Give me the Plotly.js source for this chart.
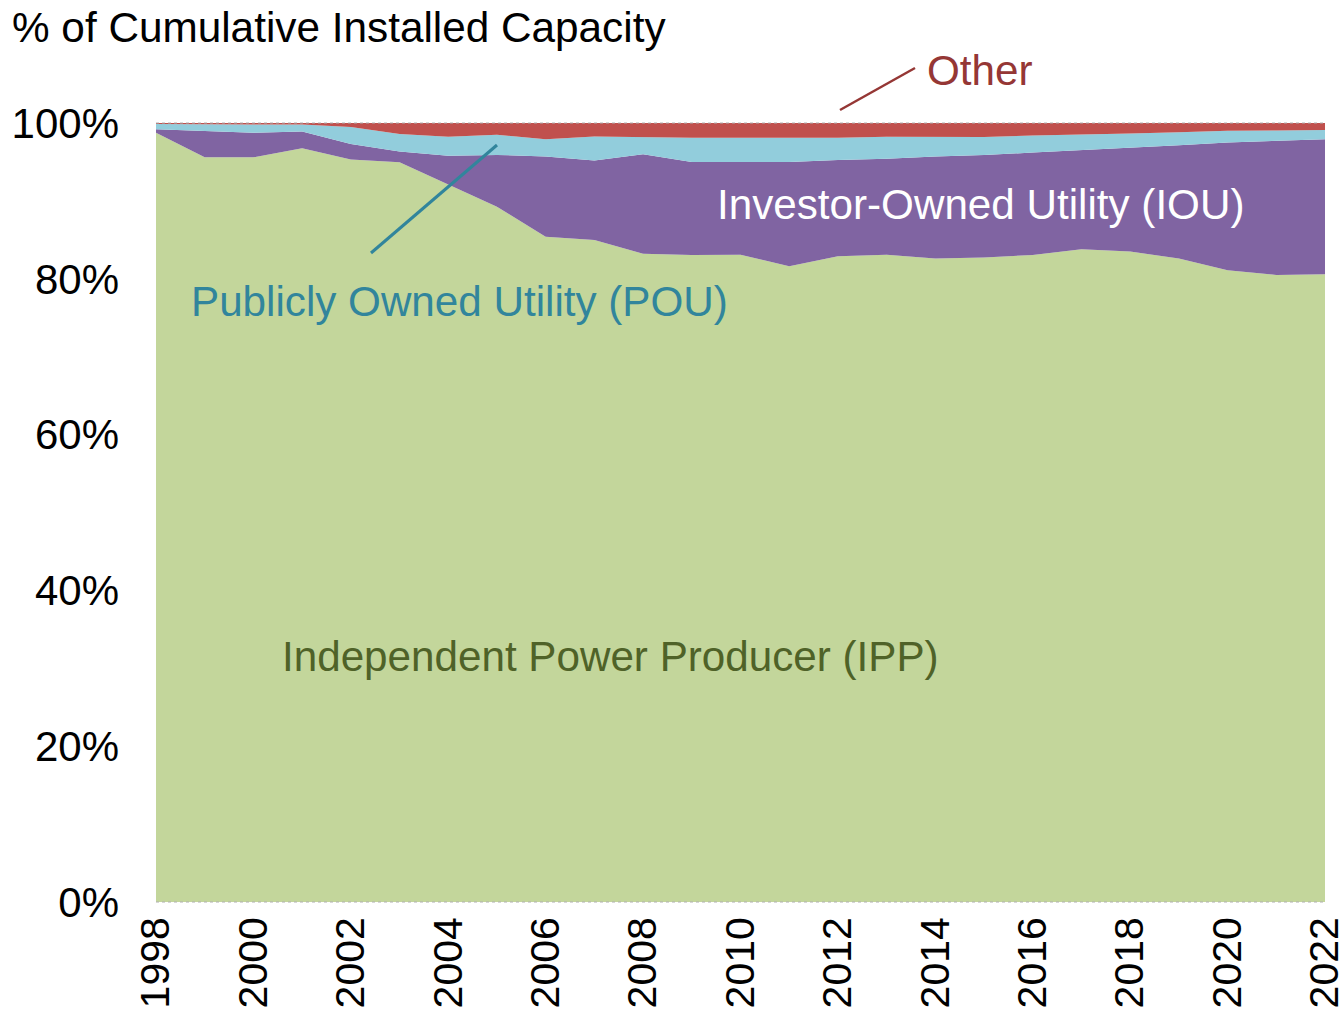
<!DOCTYPE html>
<html>
<head>
<meta charset="utf-8">
<script src="https://cdn.plot.ly/plotly-3.0.1.min.js"></script>
<style>html,body{margin:0;padding:0;background:#fff;}#chart{width:1340px;height:1014px;}</style>
</head>
<body>
<div id="chart"></div>
<script>
const years = [1998,1999,2000,2001,2002,2003,2004,2005,2006,2007,2008,2009,2010,2011,2012,2013,2014,2015,2016,2017,2018,2019,2020,2021,2022];
const ipp   = [98.75,95.6,95.6,96.75,95.3,94.95,92.1,89.25,85.4,84.98,83.2,83.05,83.1,81.6,82.9,83.1,82.6,82.75,83.05,83.8,83.5,82.6,81.1,80.5,80.6];
const iou   = [0.45,3.4,3.15,2.15,2.0,1.4,3.7,6.65,10.3,10.2,12.8,11.95,11.9,13.4,12.35,12.3,13.1,13.15,13.15,12.7,13.3,14.55,16.4,17.2,17.3];
const pou   = [0.67,0.8,1.05,0.9,2.2,2.25,2.45,2.6,2.2,3.1,2.15,3.1,3.1,3.1,2.85,2.85,2.55,2.3,2.2,2.0,1.85,1.65,1.5,1.35,1.2];
const other = [0.13,0.2,0.2,0.2,0.5,1.4,1.75,1.5,2.1,1.7,1.85,1.9,1.9,1.9,1.9,1.75,1.75,1.8,1.6,1.5,1.35,1.2,1.0,0.95,0.9];
const seriesNames = ["Independent Power Producer (IPP)","Investor-Owned Utility (IOU)","Publicly Owned Utility (POU)","Other"];
const yTicks = [0,20,40,60,80,100];
const xTicks = [1998,2000,2002,2004,2006,2008,2010,2012,2014,2016,2018,2020,2022];

const FONT = "Arial, 'Liberation Sans', sans-serif";
const colors = ["#C3D69B","#8064A2","#92CDDC","#C0504D"];
const vals = [ipp, iou, pou, other];
const traces = vals.map((v,i)=>({
  x: years, y: v, name: seriesNames[i], type: 'scatter', mode: 'lines',
  stackgroup: 'one', line: {width: 0, color: colors[i]}, fillcolor: colors[i],
  hoverinfo: 'x+y+name'
}));

const layout = {
  width: 1340, height: 1014,
  margin: {l: 156, r: 15, t: 123, b: 112},
  paper_bgcolor: '#fff', plot_bgcolor: '#fff',
  showlegend: false,
  font: {family: FONT, size: 42, color: '#000'},
  title: {text: '% of Cumulative Installed Capacity', font: {family: FONT, size: 42.3, color: '#000'},
          x: 12/1340, xref: 'container', xanchor: 'left', y: 1 - 27/1014, yref: 'container', yanchor: 'middle'},
  xaxis: {range: [1998, 2022], tickvals: xTicks, ticktext: xTicks.map(String), tickangle: -90,
          showgrid: false, zeroline: false, showline: false, ticks: '', ticklabelstandoff: 6,
          ticklabeloverflow: 'allow',
          tickfont: {family: FONT, size: 41, color: '#000'}, fixedrange: true},
  yaxis: {range: [0, 100], tickvals: yTicks, ticktext: yTicks.map(v=>v+'%'),
          showgrid: false, zeroline: false, showline: false, ticks: '', ticklabelstandoff: 36,
          tickfont: {family: FONT, size: 42, color: '#000'}, fixedrange: true},
  shapes: [
    {type: 'line', xref: 'paper', yref: 'paper', x0: 0, x1: 1, y0: 0, y1: 0, line: {color: '#b0b0b0', width: 1, dash: 'dot'}},
    {type: 'line', xref: 'paper', yref: 'paper', x0: 0, x1: 1, y0: 1, y1: 1, line: {color: '#b0b0b0', width: 1, dash: 'dot'}},
    {type: 'line', xref: 'paper', yref: 'paper', x0: (371-156)/1169, y0: (902-253)/779, x1: (497-156)/1169, y1: (902-145)/779,
     line: {color: '#31859C', width: 3}},
    {type: 'line', xref: 'paper', yref: 'paper', x0: (840-156)/1169, y0: (902-110)/779, x1: (915-156)/1169, y1: (902-68)/779,
     line: {color: '#953735', width: 2.5}}
  ],
  annotations: [
    {text: seriesNames[0], xref: 'paper', yref: 'paper', x: (610.5-156)/1169, y: (902-656)/779, showarrow: false,
     font: {family: FONT, size: 42.2, color: '#4F6228'}, xanchor: 'center', yanchor: 'middle'},
    {text: seriesNames[1], xref: 'paper', yref: 'paper', x: (980-156)/1169, y: (902-204)/779, showarrow: false,
     font: {family: FONT, size: 42.2, color: '#FFFFFF'}, xanchor: 'center', yanchor: 'middle'},
    {text: seriesNames[2], xref: 'paper', yref: 'paper', x: (459-156)/1169, y: (902-301)/779, showarrow: false,
     font: {family: FONT, size: 42.2, color: '#31859C'}, xanchor: 'center', yanchor: 'middle'},
    {text: seriesNames[3], xref: 'paper', yref: 'paper', x: (980-156)/1169, y: (902-70)/779, showarrow: false,
     font: {family: FONT, size: 42.2, color: '#953735'}, xanchor: 'center', yanchor: 'middle'}
  ]
};

Plotly.newPlot('chart', traces, layout, {displayModeBar: false, staticPlot: true});
</script>
</body>
</html>
